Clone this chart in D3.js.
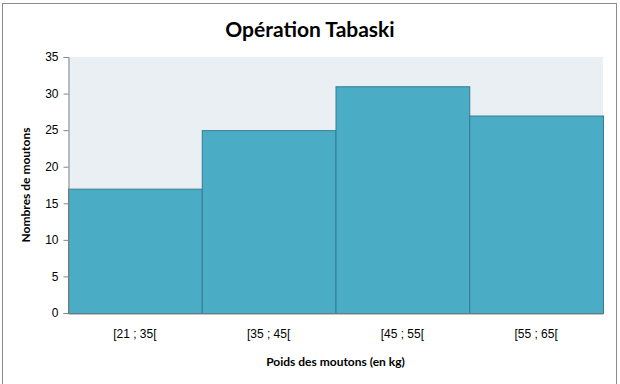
<!DOCTYPE html>
<html>
<head>
<meta charset="utf-8">
<script src="https://cdn.jsdelivr.net/npm/d3@7"></script>
<style>
  html, body { margin: 0; padding: 0; background: #fff; }
  svg { display: block; font-family: Lato, "Open Sans", sans-serif; }
</style>
</head>
<body>
<svg id="chart" width="620" height="384"></svg>
<script>
const classes = ["[21 ; 35[", "[35 ; 45[", "[45 ; 55[", "[55 ; 65["];
const counts = [17, 25, 31, 27];
const yTicks = [0, 5, 10, 15, 20, 25, 30, 35];

const svg = d3.select("#chart");

// chart frame
svg.append("rect")
    .attr("x", 2.5).attr("y", 3.5)
    .attr("width", 614).attr("height", 385)
    .attr("fill", "#fff")
    .attr("stroke", "#8c8c8c");

const margin = { top: 57, right: 17, bottom: 71, left: 68 },
    width = 620 - margin.left - margin.right,
    height = 384 - margin.top - margin.bottom,
    g = svg.append("g").attr("transform", "translate(" + margin.left + "," + margin.top + ")");

const x = d3.scaleBand()
    .domain(classes)
    .range([0, width])
    .padding(0);

const y = d3.scaleLinear()
    .domain([0, 35])
    .range([height, 0]);

// plot background
g.append("rect")
    .attr("width", width)
    .attr("height", height)
    .attr("fill", "#e9eff3");

// bars
g.append("g")
    .selectAll("rect")
    .data(classes)
    .enter().append("rect")
    .attr("x", d => x(d) + 0.5)
    .attr("y", (d, i) => y(counts[i]) + 0.5)
    .attr("width", x.bandwidth())
    .attr("height", (d, i) => height - y(counts[i]))
    .attr("fill", "#4bacc6")
    .attr("stroke", "#357d91")
    .attr("stroke-width", 1);

// y axis
const yAxis = g.append("g")
    .attr("transform", "translate(0.5,0)")
    .call(d3.axisLeft(y).tickValues(yTicks).tickSize(5).tickPadding(5));
yAxis.select(".domain").attr("stroke", "#868686");
yAxis.selectAll(".tick line").attr("stroke", "#868686");
yAxis.selectAll(".tick text")
    .attr("font-size", 12)
    .attr("fill", "#000");

// x axis
const xAxis = g.append("g")
    .attr("transform", "translate(0," + (height + 0.5) + ")")
    .call(d3.axisBottom(x).tickSize(0).tickPadding(16));
xAxis.select(".domain").attr("stroke", "#868686");
xAxis.selectAll(".tick text")
    .attr("font-size", 12)
    .attr("fill", "#000");

// title
svg.append("text")
    .attr("x", 310)
    .attr("y", 37)
    .attr("text-anchor", "middle")
    .attr("font-size", 21)
    .attr("font-weight", "bold")
    .text("Opération Tabaski");

// axis titles
svg.append("text")
    .attr("x", margin.left + width / 2)
    .attr("y", 366)
    .attr("text-anchor", "middle")
    .attr("font-size", 12)
    .attr("font-weight", "bold")
    .text("Poids des moutons (en kg)");

svg.append("text")
    .attr("transform", "translate(30," + (margin.top + height / 2) + ") rotate(-90)")
    .attr("text-anchor", "middle")
    .attr("font-size", 12)
    .attr("font-weight", "bold")
    .text("Nombres de moutons");
</script>
</body>
</html>
